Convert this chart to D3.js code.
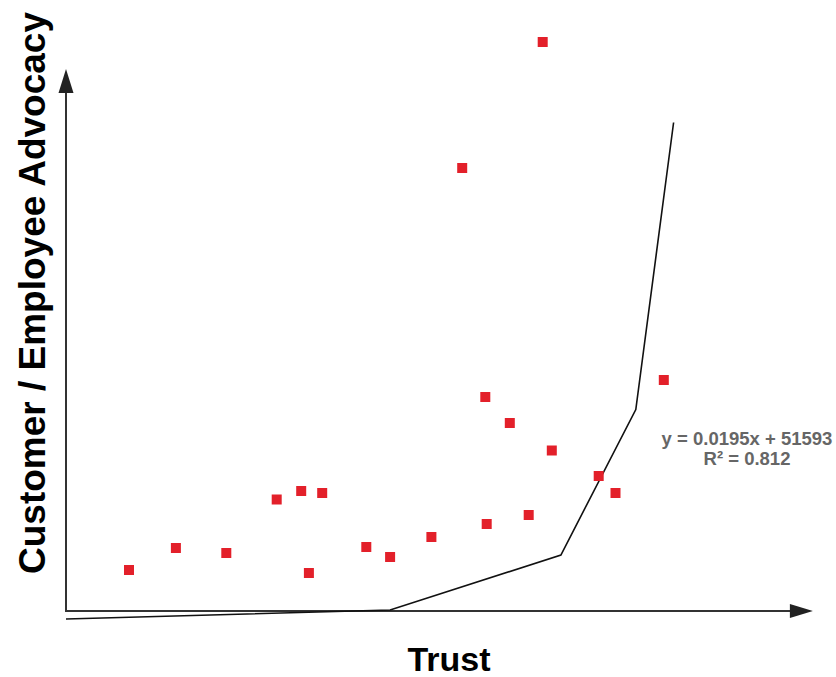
<!DOCTYPE html>
<html><head><meta charset="utf-8">
<script src="https://cdn.jsdelivr.net/npm/d3@7/dist/d3.min.js"></script>
<style>body{margin:0;background:#fff}svg{display:block}</style>
</head><body>
<svg id="c" width="836" height="677"></svg>
<script>
// Scatter data (Trust vs Customer / Employee Advocacy), arbitrary units
const trustX = [9.0, 15.7, 22.9, 30.1, 33.6, 36.6, 34.7, 42.9, 46.3, 52.2, 56.6, 59.9, 60.1, 63.4, 66.1, 68.1, 69.4, 76.1, 78.5, 85.4];
const advocacyY = [8.2, 12.6, 11.6, 22.3, 24.0, 23.6, 7.6, 12.8, 10.8, 14.8, 88.6, 42.8, 17.4, 37.6, 19.2, 113.8, 32.1, 27.0, 23.6, 46.2];
// Drawn trend polyline
const trendX = [0, 46.3, 70.7, 81.4, 86.8];
const trendY = [-1.6, 0.2, 11.2, 40.3, 97.7];
const equationLines = ["y = 0.0195x + 51593", "R² = 0.812"];
const xTitle = "Trust";
const yTitle = "Customer / Employee Advocacy";
const xAxisMax = 106.7, yAxisMax = 108.4;

const svg = d3.select("#c");
const x = d3.scaleLinear().domain([0, 100]).range([66, 766]);
const y = d3.scaleLinear().domain([0, 100]).range([611, 111]);

// axes
const axisColor = "#333";
svg.append("line").attr("x1", x(0)).attr("x2", x(xAxisMax) - 10).attr("y1", y(0)).attr("y2", y(0))
  .attr("stroke", axisColor).attr("stroke-width", 2);
svg.append("line").attr("x1", x(0)).attr("x2", x(0)).attr("y1", y(0) + 1).attr("y2", y(yAxisMax) + 10)
  .attr("stroke", axisColor).attr("stroke-width", 2);
// arrowheads
const xt = x(xAxisMax), yt = y(0);
svg.append("path").attr("d", `M${xt},${yt} L${xt - 23},${yt - 7} L${xt - 23},${yt + 7} Z`).attr("fill", "#222");
const ax = x(0), ay = y(yAxisMax);
svg.append("path").attr("d", `M${ax},${ay} L${ax - 7.5},${ay + 24} L${ax + 7.5},${ay + 24} Z`).attr("fill", "#222");

// trend polyline
const line = d3.line().x((d, i) => x(trendX[i])).y((d, i) => y(trendY[i]));
svg.append("path").datum(trendX).attr("d", line).attr("fill", "none")
  .attr("stroke", "#111").attr("stroke-width", 1.6);

// points
const s = 10;
svg.append("g").selectAll("rect").data(trustX).join("rect")
  .attr("x", (d) => x(d) - s / 2).attr("y", (d, i) => y(advocacyY[i]) - s / 2)
  .attr("width", s).attr("height", s).attr("fill", "#e3202a");

// equation
svg.append("g").selectAll("text").data(equationLines).join("text")
  .attr("x", 747).attr("y", (d, i) => 445 + i * 20)
  .attr("text-anchor", "middle").attr("font-family", "Liberation Sans, Arial, sans-serif")
  .attr("font-weight", "bold").attr("font-size", 18.5).attr("fill", "#666").text(d => d);

// titles
svg.append("text").attr("x", 449).attr("y", 671).attr("text-anchor", "middle")
  .attr("font-family", "Liberation Sans, Arial, sans-serif").attr("font-weight", "bold")
  .attr("font-size", 34).attr("fill", "#000").text(xTitle);
svg.append("text").attr("transform", "translate(45,293) rotate(-90)").attr("text-anchor", "middle")
  .attr("font-family", "Liberation Sans, Arial, sans-serif").attr("font-weight", "bold")
  .attr("font-size", 37).attr("fill", "#000").text(yTitle);
</script>
</body></html>
